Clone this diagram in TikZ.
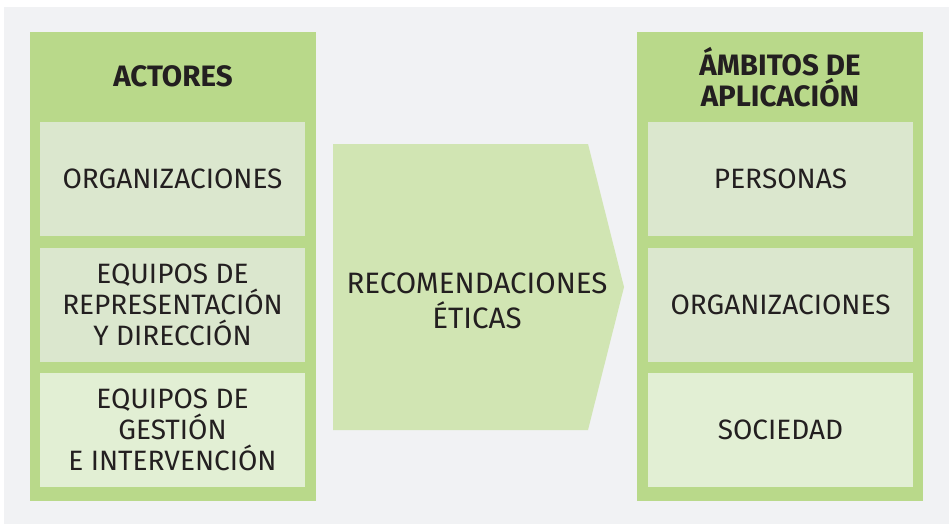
\documentclass[tikz,border=0pt]{standalone}
\usepackage{fontspec}
\setmainfont{Fira Sans}

\definecolor{fondo}{HTML}{F1F2F4}
\definecolor{verde}{HTML}{B9D98A}
\definecolor{verdeclaro}{HTML}{DBE7CE}
\definecolor{verdepalido}{HTML}{E2EFD4}
\definecolor{verdeflecha}{HTML}{D1E5B3}
\definecolor{texto}{HTML}{231F20}

\begin{document}
\begin{tikzpicture}[x=1pt, y=-1pt,
    marco/.style={fill=verde, inner sep=0pt, minimum width=286pt, minimum height=469pt},
    titulo/.style={text=texto, align=center, font=\fontsize{29.5}{31}\selectfont\bfseries},
    caja/.style={fill=verdeclaro, inner sep=0pt, minimum width=265pt, minimum height=114pt,
        text=texto, align=center, font=\fontsize{28}{31}\selectfont},
    cajapalida/.style={caja, fill=verdepalido}]
    % Page and background (image is 949 x 524 px, y grows downwards)
    \useasboundingbox (0,0) rectangle (949,524);
    \fill[white] (0,0) rectangle (949,524);
    \fill[fondo] (4,7) rectangle (949,524);

    % Left column: actors
    \node[marco] (actores) at (173,266.5) {};
    \node[titulo] (tactores) at (173,76) {ACTORES};
    \node[caja] (org) at (172.5,179) {ORGANIZACIONES};
    \node[caja] (repr) at (172.5,304.5) {EQUIPOS DE\\REPRESENTACIÓN\\Y DIRECCIÓN};
    \node[cajapalida] (gest) at (172.5,430) {EQUIPOS DE\\GESTIÓN\\E INTERVENCIÓN};

    % Middle arrow
    \fill[verdeflecha] (333,144) -- (588,144) -- (624,287) -- (588,430) -- (333,430) -- cycle;
    \node[text=texto, align=center, font=\fontsize{29.5}{35}\selectfont] (recom) at (477,301)
        {RECOMENDACIONES\\ÉTICAS};

    % Right column: scopes
    \node[marco] (ambitos) at (780,266.5) {};
    \node[titulo] (tambitos) at (780,77) {ÁMBITOS DE\\APLICACIÓN};
    \node[caja] (pers) at (780.5,179) {PERSONAS};
    \node[caja] (orgs) at (780.5,304.5) {ORGANIZACIONES};
    \node[cajapalida] (soc) at (780.5,430) {SOCIEDAD};
\end{tikzpicture}
\end{document}
